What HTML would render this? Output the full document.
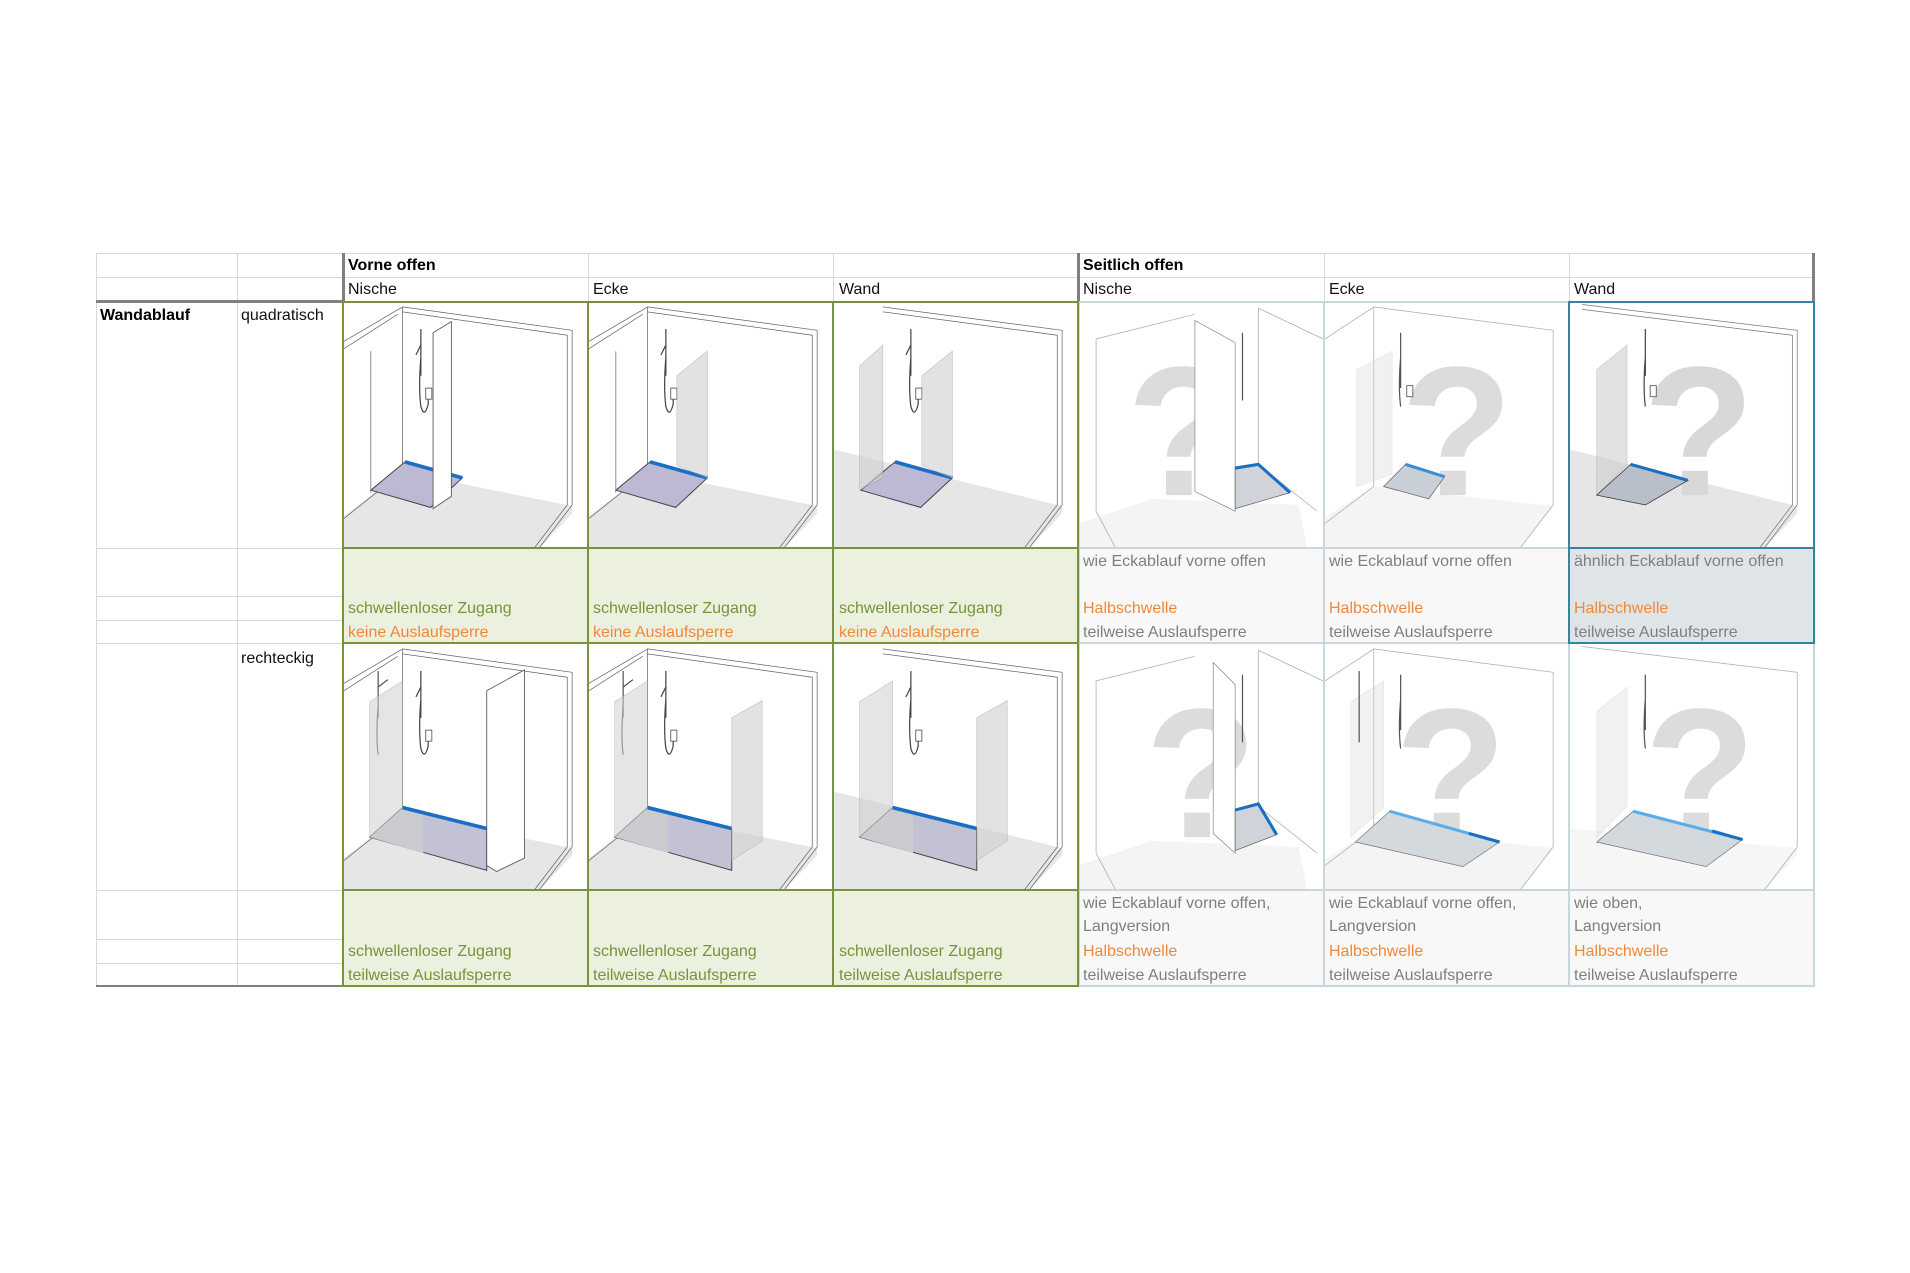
<!DOCTYPE html>
<html><head><meta charset="utf-8">
<style>
*{margin:0;padding:0;box-sizing:border-box}
body{width:1910px;height:1273px;background:#fff;position:relative;overflow:hidden;font-family:"Liberation Sans",Arial,sans-serif;font-size:16px}
.hl{position:absolute;height:1px;background:#d4d8dc}
.vl{position:absolute;width:1px;background:#d4d8dc}
.t{position:absolute;white-space:nowrap;line-height:23px;height:23px}
.b{font-weight:bold;color:#000}
.k{color:#111}
.g{color:#77933c}
.o{color:#f0883a}
.y{color:#7f7f7f}
.box{position:absolute;border:2px solid #77933c}
.bx2{position:absolute;border:2px solid #c8d7de}
svg.c{position:absolute}
</style></head><body>
<svg width="0" height="0" style="position:absolute">
<defs>
<g id="room">
<polygon points="0,200 0,174 48,138 187,166 187,172 160,200" fill="#e6e6e6"/>
<path d="M48,4 L187,23 L187,165 L160,200 M48,8 L183,27 L183,165 L156,200 M48,4 L48,138 M48,4 L0,32 M44,10 L0,38 M48,138 L0,176" stroke="#666" stroke-width="0.6" fill="none"/>
</g>
<g id="wallw">
<polygon points="0,200 0,120 187,166 187,172 160,200" fill="#e6e6e6"/>
<path d="M40,4 L187,23 L187,165 L160,200 M40,8 L183,27 L183,165 L156,200" stroke="#666" stroke-width="0.6" fill="none"/>
</g>
<g id="shower">
<path d="M63,22 V60 M63,35 l-4,8 M63,45 q-2,25 0,40 q3,10 6,-2 V75" stroke="#444" stroke-width="1" fill="none"/>
<rect x="67" y="70" width="5" height="9" fill="#fff" stroke="#555" stroke-width="0.7"/>
</g>
<g id="shower2">
<path d="M28,22 V60 M28,35 l8,-6 M28,50 q-2,25 0,40" stroke="#555" stroke-width="1" fill="none"/>
</g>
<g id="trayQ">
<polygon points="50,130 22,153 71,167 97,143" fill="#bdb8d4" stroke="#444" stroke-width="0.8"/>
<line x1="50" y1="130" x2="97" y2="143" stroke="#1a6fc4" stroke-width="3"/>
</g>
<g id="trayR">
<polygon points="48,133 21,157 117,184 117,150" fill="#c3c2d4" stroke="#444" stroke-width="0.8"/>
<polygon points="21,157 48,133 65,137 65,170" fill="#c9cbcf"/>
<line x1="48" y1="133" x2="117" y2="150" stroke="#1a6fc4" stroke-width="3"/>
</g>
<g id="glassL">
<polygon points="21,47 48,30 48,133 21,157" fill="#cfd0d0" opacity="0.55" stroke="#999" stroke-width="0.5"/>
</g>
</defs>
</svg>

<!-- grid lines -->
<div class="hl" style="left:96px;top:253px;width:1718px"></div>
<div class="hl" style="left:96px;top:277px;width:1718px"></div>
<div class="hl" style="left:96px;top:548px;width:247px"></div>
<div class="hl" style="left:96px;top:596px;width:247px"></div>
<div class="hl" style="left:96px;top:620px;width:247px"></div>
<div class="hl" style="left:96px;top:643px;width:247px"></div>
<div class="hl" style="left:96px;top:890px;width:247px"></div>
<div class="hl" style="left:96px;top:939px;width:247px"></div>
<div class="hl" style="left:96px;top:963px;width:247px"></div>
<div class="vl" style="left:96px;top:253px;height:733px"></div>
<div class="vl" style="left:237px;top:253px;height:733px"></div>
<div class="vl" style="left:588px;top:253px;height:48px"></div>
<div class="vl" style="left:833px;top:253px;height:48px"></div>
<div class="vl" style="left:1324px;top:253px;height:48px"></div>
<div class="vl" style="left:1569px;top:253px;height:48px"></div>
<div style="position:absolute;left:342px;top:253px;width:3px;height:48px;background:#808080"></div>
<div style="position:absolute;left:1077px;top:253px;width:3px;height:48px;background:#808080"></div>
<div style="position:absolute;left:1812px;top:253px;width:3px;height:48px;background:#808080"></div>
<div style="position:absolute;left:96px;top:300px;width:248px;height:3px;background:#808080"></div>
<div style="position:absolute;left:96px;top:985px;width:248px;height:2px;background:#808080"></div>

<!-- headers -->
<div class="t b" style="left:348px;top:254px">Vorne offen</div>
<div class="t b" style="left:1083px;top:254px">Seitlich offen</div>
<div class="t k" style="left:348px;top:278px">Nische</div>
<div class="t k" style="left:593px;top:278px">Ecke</div>
<div class="t k" style="left:839px;top:278px">Wand</div>
<div class="t k" style="left:1083px;top:278px">Nische</div>
<div class="t k" style="left:1329px;top:278px">Ecke</div>
<div class="t k" style="left:1574px;top:278px">Wand</div>
<div class="t b" style="left:100px;top:304px">Wandablauf</div>
<div class="t k" style="left:241px;top:304px">quadratisch</div>
<div class="t k" style="left:241px;top:647px">rechteckig</div>

<!-- text cell backgrounds -->
<div style="position:absolute;left:343px;top:548px;width:735px;height:95px;background:#ebf1de"></div>
<div style="position:absolute;left:343px;top:890px;width:735px;height:96px;background:#ebf1de"></div>
<div style="position:absolute;left:1078px;top:548px;width:491px;height:95px;background:#f8f8f8"></div>
<div style="position:absolute;left:1569px;top:548px;width:245px;height:95px;background:#dfe4e7"></div>
<div style="position:absolute;left:1078px;top:890px;width:736px;height:96px;background:#f8f8f8"></div>

<!-- Vorne quad images -->
<svg class="c" style="left:344px;top:302px" width="244" height="246" viewBox="0 0 200 200" preserveAspectRatio="none">
<use href="#room"/><use href="#trayQ"/><use href="#shower"/>
<polygon points="73,25 88,16 88,158 73,168" fill="#fff" stroke="#555" stroke-width="0.7"/>
<line x1="22" y1="40" x2="22" y2="155" stroke="#666" stroke-width="0.6"/>
</svg>
<svg class="c" style="left:589px;top:302px" width="244" height="246" viewBox="0 0 200 200" preserveAspectRatio="none">
<use href="#room"/><use href="#trayQ"/><use href="#shower"/>
<polygon points="72,60 97,40 97,143 72,133" fill="#cfd0d0" opacity="0.6" stroke="#999" stroke-width="0.5"/>
<line x1="22" y1="40" x2="22" y2="155" stroke="#666" stroke-width="0.6"/>
</svg>
<svg class="c" style="left:834px;top:302px" width="244" height="246" viewBox="0 0 200 200" preserveAspectRatio="none">
<use href="#wallw"/><use href="#trayQ"/><use href="#shower"/>
<polygon points="21,52 40,35 40,143 21,153" fill="#cfd0d0" opacity="0.6" stroke="#999" stroke-width="0.5"/>
<polygon points="72,60 97,40 97,143 72,133" fill="#cfd0d0" opacity="0.6" stroke="#999" stroke-width="0.5"/>
</svg>

<!-- Vorne rect images -->
<svg class="c" style="left:344px;top:644px" width="244" height="246" viewBox="0 0 200 200" preserveAspectRatio="none">
<use href="#room"/><use href="#trayR"/><use href="#shower"/><use href="#shower2"/><use href="#glassL"/>
<polygon points="117,38 148,21 148,174 125,185 117,180" fill="#fff" stroke="#555" stroke-width="0.7"/>
</svg>
<svg class="c" style="left:589px;top:644px" width="244" height="246" viewBox="0 0 200 200" preserveAspectRatio="none">
<use href="#room"/><use href="#trayR"/><use href="#shower"/><use href="#shower2"/><use href="#glassL"/>
<polygon points="117,60 142,46 142,160 117,176" fill="#cfd0d0" opacity="0.6" stroke="#999" stroke-width="0.5"/>
</svg>
<svg class="c" style="left:834px;top:644px" width="244" height="246" viewBox="0 0 200 200" preserveAspectRatio="none">
<use href="#wallw"/><use href="#trayR"/><use href="#shower"/><use href="#glassL"/>
<polygon points="117,60 142,46 142,160 117,176" fill="#cfd0d0" opacity="0.6" stroke="#999" stroke-width="0.5"/>
</svg>

<!-- Seitlich quad images -->
<svg class="c" style="left:1079px;top:302px" width="244" height="246" viewBox="0 0 200 200" preserveAspectRatio="none">
<polygon points="0,200 0,180 60,160 180,165 187,200" fill="#f4f4f4"/>
<path d="M14,30 L95,10 M14,30 V170 L30,200 M147,5 V132 L195,170 M147,5 L200,30" stroke="#aaa" stroke-width="0.6" fill="none"/>
<text x="85" y="157" font-family="Liberation Sans" font-weight="bold" font-size="150" text-anchor="middle" fill="#dcdcdc">?</text>
<polygon points="95,15 128,33 128,170 95,154" fill="#fff" stroke="#888" stroke-width="0.6"/>
<path d="M134,25 V80" stroke="#555" stroke-width="1"/>
<polygon points="128,135 147,132 173,155 128,168" fill="#d0d3da" stroke="#666" stroke-width="0.6"/>
<path d="M128,135 L147,132 L173,155" stroke="#1a6fc4" stroke-width="2.5" fill="none"/>
</svg>
<svg class="c" style="left:1325px;top:302px" width="244" height="246" viewBox="0 0 200 200" preserveAspectRatio="none">
<polygon points="0,200 0,175 40,150 187,166 160,200" fill="#f4f4f4"/>
<path d="M40,4 L187,23 V165 L160,200 M40,4 V150 L0,180 M40,4 L0,30" stroke="#aaa" stroke-width="0.6" fill="none"/>
<text x="108" y="157" font-family="Liberation Sans" font-weight="bold" font-size="150" text-anchor="middle" fill="#dcdcdc">?</text>
<polygon points="26,55 55,40 55,140 26,150" fill="#ddd" opacity="0.4" stroke="#bbb" stroke-width="0.5"/>
<path d="M62,25 V70 M62,45 q-2,25 0,40" stroke="#555" stroke-width="1" fill="none"/>
<rect x="67" y="68" width="5" height="9" fill="#fff" stroke="#555" stroke-width="0.7"/>
<polygon points="66,132 48,150 85,160 98,142" fill="#c9cfd6" stroke="#666" stroke-width="0.6"/>
<line x1="66" y1="132" x2="98" y2="142" stroke="#3a8fd8" stroke-width="2.5"/>
</svg>
<svg class="c" style="left:1570px;top:302px" width="243" height="246" viewBox="0 0 200 200" preserveAspectRatio="none">
<polygon points="0,200 0,120 187,166 187,172 160,200" fill="#e6e6e6"/>
<path d="M10,2 L187,23 V165 L160,200 M10,6 L183,27 V165 L156,200" stroke="#777" stroke-width="0.6" fill="none"/>
<text x="106" y="157" font-family="Liberation Sans" font-weight="bold" font-size="150" text-anchor="middle" fill="#d8d8d8">?</text>
<polygon points="22,55 47,35 47,132 22,157" fill="#ccc" opacity="0.55" stroke="#999" stroke-width="0.5"/>
<path d="M62,22 V60 M62,45 q-2,25 0,40" stroke="#444" stroke-width="1" fill="none"/>
<rect x="66" y="68" width="5" height="9" fill="#fff" stroke="#555" stroke-width="0.7"/>
<polygon points="50,132 22,157 62,165 97,145" fill="#b9bfc8" stroke="#444" stroke-width="0.7"/>
<line x1="50" y1="132" x2="97" y2="145" stroke="#1a6fc4" stroke-width="2.5"/>
</svg>

<!-- Seitlich rect images -->
<svg class="c" style="left:1079px;top:644px" width="244" height="246" viewBox="0 0 200 200" preserveAspectRatio="none">
<polygon points="0,200 0,180 60,160 180,165 187,200" fill="#f4f4f4"/>
<path d="M14,30 L95,10 M14,30 V170 L30,200 M147,5 V132 L195,170 M147,5 L200,30" stroke="#aaa" stroke-width="0.6" fill="none"/>
<text x="100" y="157" font-family="Liberation Sans" font-weight="bold" font-size="150" text-anchor="middle" fill="#dcdcdc">?</text>
<polygon points="110,15 128,33 128,170 110,154" fill="#fff" stroke="#888" stroke-width="0.6"/>
<path d="M134,25 V80" stroke="#555" stroke-width="1"/>
<polygon points="128,135 147,130 162,155 128,168" fill="#d0d3da" stroke="#666" stroke-width="0.6"/>
<path d="M128,135 L147,130 L162,155" stroke="#1a6fc4" stroke-width="2.5" fill="none"/>
</svg>
<svg class="c" style="left:1325px;top:644px" width="244" height="246" viewBox="0 0 200 200" preserveAspectRatio="none">
<polygon points="0,200 0,175 40,150 187,166 160,200" fill="#f4f4f4"/>
<path d="M40,4 L187,23 V165 L160,200 M40,4 V150 L0,180 M40,4 L0,30" stroke="#aaa" stroke-width="0.6" fill="none"/>
<text x="103" y="157" font-family="Liberation Sans" font-weight="bold" font-size="150" text-anchor="middle" fill="#dcdcdc">?</text>
<polygon points="21,47 48,30 48,133 21,157" fill="#ddd" opacity="0.4" stroke="#bbb" stroke-width="0.5"/>
<path d="M28,22 V80 M62,25 V70 M62,45 q-2,25 0,40" stroke="#555" stroke-width="1" fill="none"/>
<polygon points="53,136 25,161 113,181 143,161" fill="#d4d9de" stroke="#777" stroke-width="0.6"/>
<line x1="53" y1="136" x2="143" y2="161" stroke="#5aaee8" stroke-width="2.5"/>
<line x1="118" y1="154" x2="143" y2="161" stroke="#1a6fc4" stroke-width="2.5"/>
</svg>
<svg class="c" style="left:1570px;top:644px" width="243" height="246" viewBox="0 0 200 200" preserveAspectRatio="none">
<polygon points="0,200 0,150 187,166 187,172 160,200" fill="#f6f6f6"/>
<path d="M10,2 L187,23 V165 L160,200" stroke="#aaa" stroke-width="0.6" fill="none"/>
<text x="107" y="157" font-family="Liberation Sans" font-weight="bold" font-size="150" text-anchor="middle" fill="#dcdcdc">?</text>
<polygon points="22,55 47,35 47,132 22,157" fill="#ddd" opacity="0.4" stroke="#bbb" stroke-width="0.5"/>
<path d="M62,25 V70 M62,45 q-2,25 0,40" stroke="#555" stroke-width="1" fill="none"/>
<polygon points="52,136 22,161 112,181 142,159" fill="#d4d9de" stroke="#777" stroke-width="0.6"/>
<line x1="52" y1="136" x2="142" y2="159" stroke="#5aaee8" stroke-width="2.5"/>
<line x1="117" y1="152" x2="142" y2="159" stroke="#1a6fc4" stroke-width="2.5"/>
</svg>

<!-- cell borders -->
<div class="bx2" style="left:1078px;top:301px;width:247px;height:248px"></div>
<div class="bx2" style="left:1323px;top:301px;width:247px;height:248px"></div>
<div class="bx2" style="left:1078px;top:547px;width:247px;height:97px"></div>
<div class="bx2" style="left:1323px;top:547px;width:247px;height:97px"></div>
<div class="bx2" style="left:1078px;top:642px;width:247px;height:249px"></div>
<div class="bx2" style="left:1323px;top:642px;width:247px;height:249px"></div>
<div class="bx2" style="left:1568px;top:642px;width:247px;height:249px"></div>
<div class="bx2" style="left:1078px;top:889px;width:247px;height:98px"></div>
<div class="bx2" style="left:1323px;top:889px;width:247px;height:98px"></div>
<div class="bx2" style="left:1568px;top:889px;width:247px;height:98px"></div>
<div class="box" style="left:1568px;top:301px;width:247px;height:343px;border-color:#31859c"></div>
<div class="box" style="left:1568px;top:547px;width:247px;height:2px;border-width:1px;border-color:#31859c"></div>
<div class="box" style="left:342px;top:301px;width:247px;height:248px"></div>
<div class="box" style="left:587px;top:301px;width:247px;height:248px"></div>
<div class="box" style="left:832px;top:301px;width:247px;height:248px"></div>
<div class="box" style="left:342px;top:547px;width:247px;height:97px"></div>
<div class="box" style="left:587px;top:547px;width:247px;height:97px"></div>
<div class="box" style="left:832px;top:547px;width:247px;height:97px"></div>
<div class="box" style="left:342px;top:642px;width:247px;height:249px"></div>
<div class="box" style="left:587px;top:642px;width:247px;height:249px"></div>
<div class="box" style="left:832px;top:642px;width:247px;height:249px"></div>
<div class="box" style="left:342px;top:889px;width:247px;height:98px"></div>
<div class="box" style="left:587px;top:889px;width:247px;height:98px"></div>
<div class="box" style="left:832px;top:889px;width:247px;height:98px"></div>

<!-- texts quad -->
<div class="t g" style="left:348px;top:597px">schwellenloser Zugang</div>
<div class="t o" style="left:348px;top:621px">keine Auslaufsperre</div>
<div class="t g" style="left:593px;top:597px">schwellenloser Zugang</div>
<div class="t o" style="left:593px;top:621px">keine Auslaufsperre</div>
<div class="t g" style="left:839px;top:597px">schwellenloser Zugang</div>
<div class="t o" style="left:839px;top:621px">keine Auslaufsperre</div>
<div class="t y" style="left:1083px;top:550px">wie Eckablauf vorne offen</div>
<div class="t o" style="left:1083px;top:597px">Halbschwelle</div>
<div class="t y" style="left:1083px;top:621px">teilweise Auslaufsperre</div>
<div class="t y" style="left:1329px;top:550px">wie Eckablauf vorne offen</div>
<div class="t o" style="left:1329px;top:597px">Halbschwelle</div>
<div class="t y" style="left:1329px;top:621px">teilweise Auslaufsperre</div>
<div class="t y" style="left:1574px;top:550px">ähnlich Eckablauf vorne offen</div>
<div class="t o" style="left:1574px;top:597px">Halbschwelle</div>
<div class="t y" style="left:1574px;top:621px">teilweise Auslaufsperre</div>
<!-- texts rect -->
<div class="t g" style="left:348px;top:940px">schwellenloser Zugang</div>
<div class="t g" style="left:348px;top:964px">teilweise Auslaufsperre</div>
<div class="t g" style="left:593px;top:940px">schwellenloser Zugang</div>
<div class="t g" style="left:593px;top:964px">teilweise Auslaufsperre</div>
<div class="t g" style="left:839px;top:940px">schwellenloser Zugang</div>
<div class="t g" style="left:839px;top:964px">teilweise Auslaufsperre</div>
<div class="t y" style="left:1083px;top:892px">wie Eckablauf vorne offen,</div>
<div class="t y" style="left:1083px;top:915px">Langversion</div>
<div class="t o" style="left:1083px;top:940px">Halbschwelle</div>
<div class="t y" style="left:1083px;top:964px">teilweise Auslaufsperre</div>
<div class="t y" style="left:1329px;top:892px">wie Eckablauf vorne offen,</div>
<div class="t y" style="left:1329px;top:915px">Langversion</div>
<div class="t o" style="left:1329px;top:940px">Halbschwelle</div>
<div class="t y" style="left:1329px;top:964px">teilweise Auslaufsperre</div>
<div class="t y" style="left:1574px;top:892px">wie oben,</div>
<div class="t y" style="left:1574px;top:915px">Langversion</div>
<div class="t o" style="left:1574px;top:940px">Halbschwelle</div>
<div class="t y" style="left:1574px;top:964px">teilweise Auslaufsperre</div>
</body></html>
